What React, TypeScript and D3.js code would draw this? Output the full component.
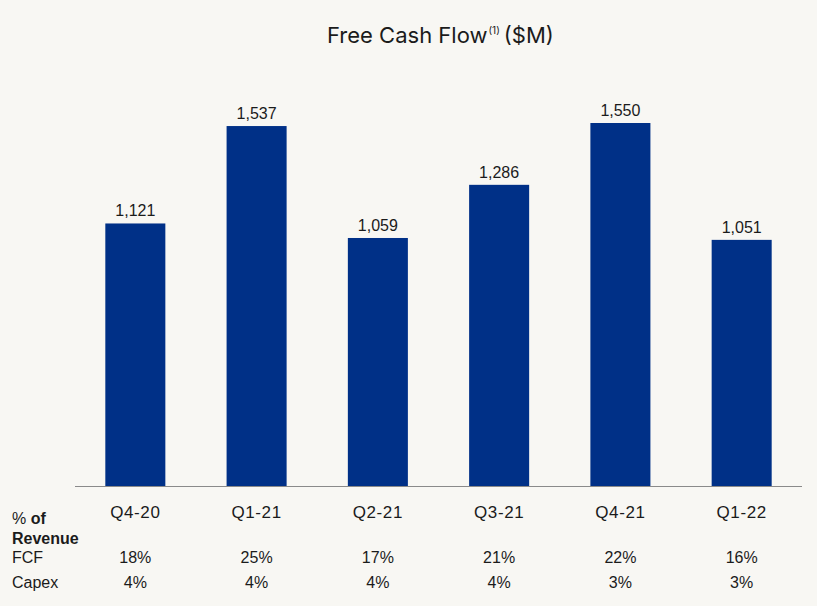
import React from "react";
import * as d3 from "d3";

const categories = ["Q4-20", "Q1-21", "Q2-21", "Q3-21", "Q4-21", "Q1-22"];
const fcfValues = [1121, 1537, 1059, 1286, 1550, 1051];
const fcfPct = ["18%", "25%", "17%", "21%", "22%", "16%"];
const capexPct = ["4%", "4%", "4%", "4%", "3%", "3%"];

const W = 817;
const H = 606;
const BG = "#f8f7f3";
const BAR = "#003087";
const TXT = "#1b1b1b";
const FONT = "'Liberation Sans', Arial, sans-serif";

export default function App() {
  const x = d3.scaleBand<string>().domain(categories).range([75, 802]).paddingInner(0.505).paddingOuter(0.25);
  const y = d3.scaleLinear().domain([0, 1550]).range([486, 123]);
  const fmt = d3.format(",");
  return (
    <svg width={W} height={H} style={{ position: "absolute", left: 0, top: 0, background: BG }}>
      <rect x={0} y={0} width={W} height={H} fill={BG} />
      <text x={327} y={43} fontFamily="Inter, 'Noto Sans', sans-serif" fontSize={22} fill={TXT}>
        Free Cash Flow
        <tspan fontSize={10} dx={1} dy={-9}>(1)</tspan>
        <tspan fontSize={22} dx={4} dy={9}>($M)</tspan>
      </text>
      {categories.map((c, i) => (
        <g key={c}>
          <rect x={x(c)} y={y(fcfValues[i])} width={x.bandwidth()} height={y(0) - y(fcfValues[i])} fill={BAR} />
          <text x={x(c)! + x.bandwidth() / 2} y={y(fcfValues[i]) - 7} textAnchor="middle" fontFamily={FONT} fontSize={16} fill={TXT}>
            {fmt(fcfValues[i])}
          </text>
          <text x={x(c)! + x.bandwidth() / 2} y={518} textAnchor="middle" fontFamily={FONT} fontSize={17} letterSpacing={0.6} fill={TXT}>
            {c}
          </text>
          <text x={x(c)! + x.bandwidth() / 2} y={563} textAnchor="middle" fontFamily={FONT} fontSize={16} fill={TXT}>
            {fcfPct[i]}
          </text>
          <text x={x(c)! + x.bandwidth() / 2} y={588} textAnchor="middle" fontFamily={FONT} fontSize={16} fill={TXT}>
            {capexPct[i]}
          </text>
        </g>
      ))}
      <line x1={75} x2={802} y1={486.5} y2={486.5} stroke="#8a8a8a" strokeWidth={1} />
      <text x={12} y={524} fontFamily={FONT} fontSize={16} fill={TXT}>
        % <tspan fontWeight="bold">of</tspan>
      </text>
      <text x={12} y={544} fontFamily={FONT} fontSize={16} fontWeight="bold" fill={TXT}>Revenue</text>
      <text x={12} y={563} fontFamily={FONT} fontSize={16} fill={TXT}>FCF</text>
      <text x={12} y={588} fontFamily={FONT} fontSize={16} fill={TXT}>Capex</text>
    </svg>
  );
}
